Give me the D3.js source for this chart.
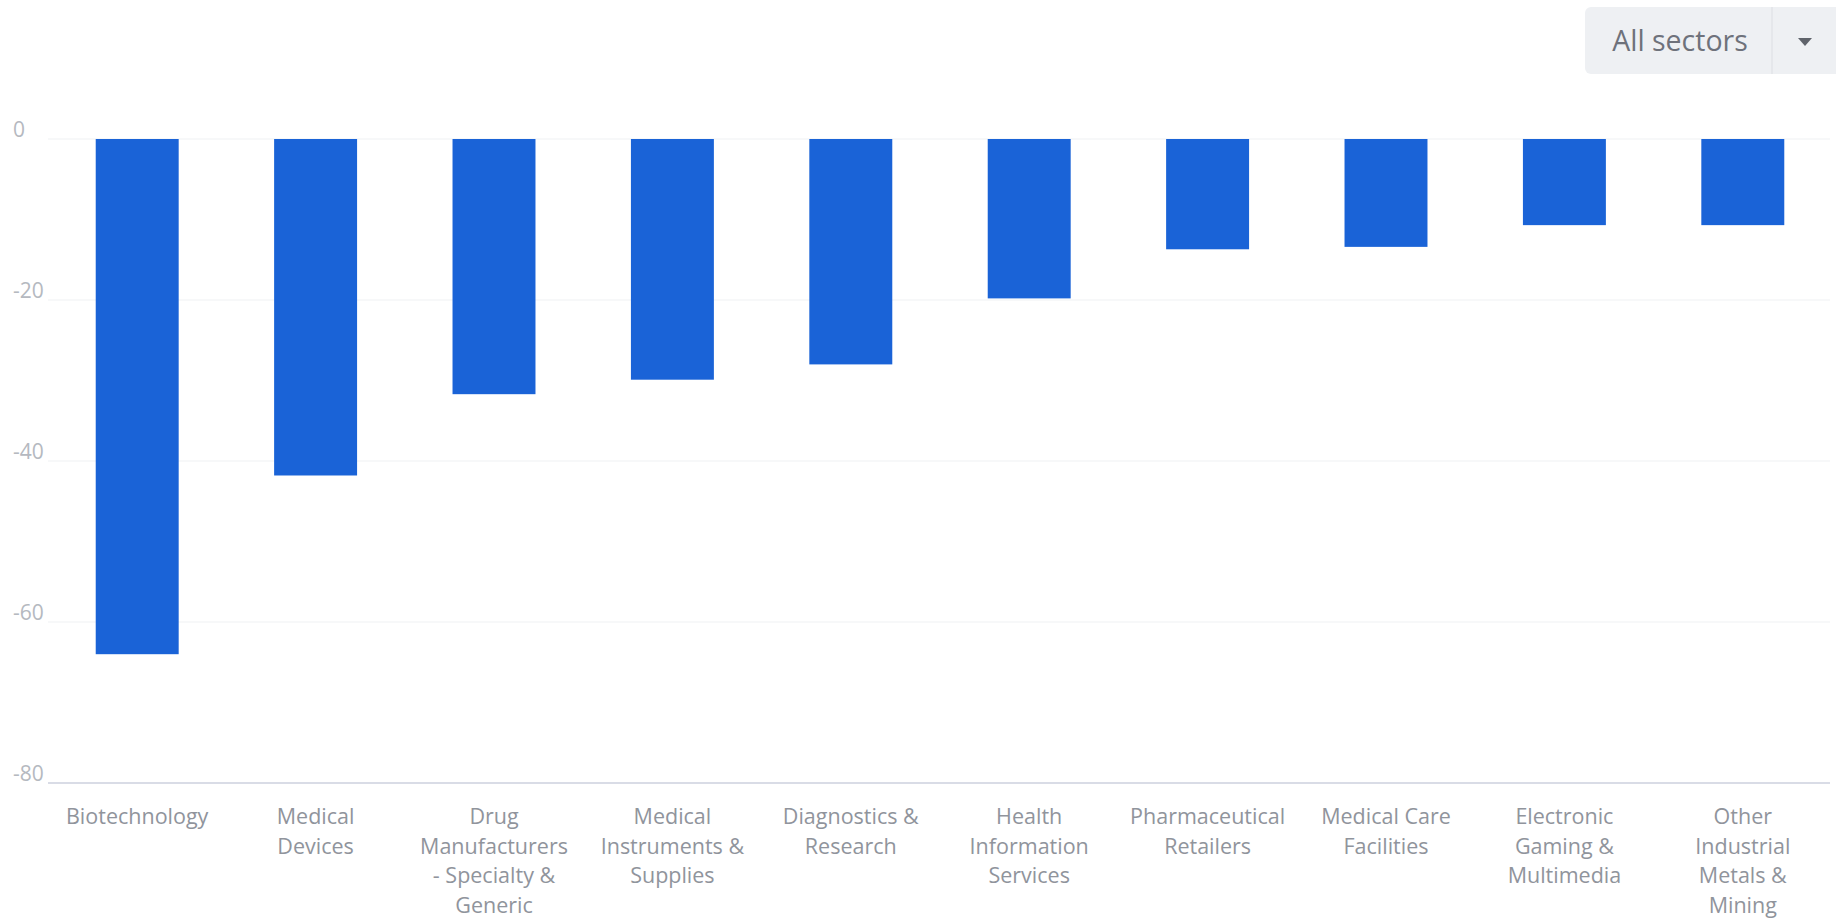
<!DOCTYPE html>
<html>
<head>
<meta charset="utf-8">
<script src="https://cdn.jsdelivr.net/npm/d3@7"></script>
<style>
  html, body { margin: 0; padding: 0; background: #ffffff; }
  svg { display: block; font-family: "Open Sans", "Noto Sans", sans-serif; }
</style>
</head>
<body>
<svg id="chart" width="1836" height="920"></svg>
<script>
// ---- data ----
const categories = [
  "Biotechnology",
  "Medical\nDevices",
  "Drug\nManufacturers\n- Specialty &\nGeneric",
  "Medical\nInstruments &\nSupplies",
  "Diagnostics &\nResearch",
  "Health\nInformation\nServices",
  "Pharmaceutical\nRetailers",
  "Medical Care\nFacilities",
  "Electronic\nGaming &\nMultimedia",
  "Other\nIndustrial\nMetals &\nMining"
];
const values = [-64.0, -41.8, -31.7, -29.9, -28.0, -19.8, -13.7, -13.4, -10.7, -10.7];
const yTicks = [0, -20, -40, -60, -80];
const dropdownLabel = "All sectors";

// ---- layout ----
const svg = d3.select("#chart");
const plotLeft = 48, plotRight = 1832, plotTop = 139, plotBottom = 783;

const x = d3.scaleBand()
  .domain(d3.range(categories.length))
  .range([plotLeft, plotRight])
  .paddingInner(0.535)
  .paddingOuter(0.2675);

const y = d3.scaleLinear().domain([-80, 0]).range([plotBottom, plotTop]);

// gridlines
svg.append("g")
  .selectAll("line")
  .data(yTicks.filter(t => t !== -80))
  .join("line")
  .attr("x1", plotLeft).attr("x2", plotRight - 2)
  .attr("y1", d => y(d)).attr("y2", d => y(d))
  .attr("stroke", "#f0f1f4").attr("stroke-width", 1.2);

// y tick labels
svg.append("g")
  .selectAll("text")
  .data(yTicks)
  .join("text")
  .attr("x", 13)
  .attr("y", d => y(d) - 2)
  .attr("text-anchor", "start")
  .attr("font-size", 21)
  .attr("fill", "#b5b9c0")
  .text(d => d);

// bars
svg.append("g")
  .selectAll("rect")
  .data(values)
  .join("rect")
  .attr("x", (d, i) => x(i))
  .attr("width", x.bandwidth())
  .attr("y", d => y(Math.max(0, d)))
  .attr("height", d => Math.abs(y(d) - y(0)))
  .attr("fill", "#1a63d7");

// x axis line
svg.append("line")
  .attr("x1", plotLeft).attr("x2", plotRight - 2)
  .attr("y1", plotBottom).attr("y2", plotBottom)
  .attr("stroke", "#d9dce6").attr("stroke-width", 2);

// x labels
const xl = svg.append("g")
  .selectAll("text")
  .data(categories)
  .join("text")
  .attr("x", (d, i) => x(i) + x.bandwidth() / 2)
  .attr("y", 824)
  .attr("text-anchor", "middle")
  .attr("font-size", 21.5)
  .attr("fill", "#90949c");
xl.each(function(d) {
  const t = d3.select(this);
  const cx = t.attr("x");
  d.split("\n").forEach((line, k) => {
    t.append("tspan").attr("x", cx).attr("dy", k === 0 ? 0 : 29.6).text(line);
  });
});

// dropdown button
const btn = svg.append("g");
btn.append("rect")
  .attr("x", 1585).attr("y", 7).attr("width", 270).attr("height", 67)
  .attr("rx", 6).attr("fill", "#eef0f3");
btn.append("line")
  .attr("x1", 1772).attr("x2", 1772).attr("y1", 7).attr("y2", 74)
  .attr("stroke", "#e2e4e8").attr("stroke-width", 1.5);
btn.append("text")
  .attr("x", 1680).attr("y", 51)
  .attr("text-anchor", "middle")
  .attr("font-size", 28.5)
  .attr("fill", "#6e727b")
  .text(dropdownLabel);
btn.append("path")
  .attr("d", "M1798,38 L1812,38 L1805,46 Z")
  .attr("fill", "#5f636b");
</script>
</body>
</html>
